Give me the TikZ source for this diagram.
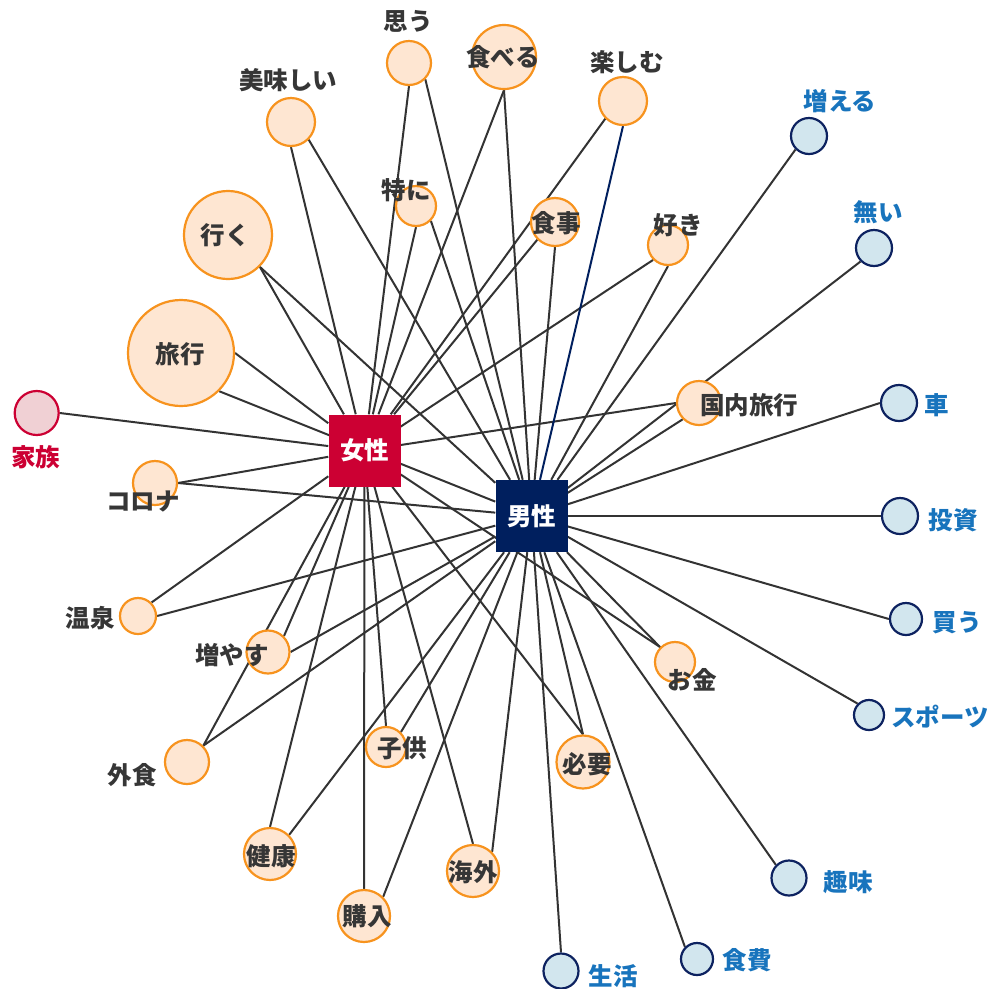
\documentclass[tikz,border=0pt]{standalone}
\usepackage{fontspec}
\newfontfamily\jp{Noto Sans CJK JP}
\usetikzlibrary{backgrounds}
\definecolor{peach}{HTML}{FEE6D2}
\definecolor{orangeB}{HTML}{F7931E}
\definecolor{lightblue}{HTML}{D2E6EE}
\definecolor{navyB}{HTML}{0D2260}
\definecolor{pinkF}{HTML}{F0D0D4}
\definecolor{femred}{HTML}{CC0033}
\definecolor{malenavy}{HTML}{001F5E}
\definecolor{edgegray}{HTML}{333333}
\definecolor{txtgray}{HTML}{363636}
\definecolor{lblblue}{HTML}{1874BD}
\newcommand\lblfont{\jp\bfseries\fontsize{24.5}{28}\selectfont}
\tikzset{
  oc/.style={circle, draw=orangeB, fill=peach, line width=2.2pt, inner sep=0pt, minimum size=#1},
  bc/.style={circle, draw=navyB, fill=lightblue, line width=2.2pt, inner sep=0pt, minimum size=#1},
  sq/.style={rectangle, minimum size=72pt, inner sep=0pt, text=white, font=\lblfont},
  lbl/.style={text=txtgray, font=\lblfont, inner sep=0pt},
  blbl/.style={lbl, text=lblblue},
  lnk/.style={draw=edgegray, line width=2pt},
}
\begin{document}
\begin{tikzpicture}[x=1pt,y=-1pt]
\useasboundingbox (0,0) rectangle (987,989);
% squares
\node[sq, fill=femred] (F) at (364.5,450.5) {女性};
\node[sq, fill=malenavy] (M) at (531.5,516) {男性};
% orange circles
\node[circle, draw=femred, fill=pinkF, line width=2.2pt, inner sep=0pt, minimum size=44pt] (kazoku) at (36.7,413) {};
\node[oc=44pt] (korona) at (155,483) {};
\node[oc=106pt] (ryoko) at (181,353) {};
\node[oc=88pt] (iku) at (228,235) {};
\node[oc=48pt] (oishii) at (291,122) {};
\node[oc=44pt] (omou) at (409,63) {};
\node[oc=64pt] (taberu) at (504,57) {};
\node[oc=48pt] (tanoshimu) at (623,101) {};
\node[oc=40pt] (tokuni) at (416,206) {};
\node[oc=48pt] (shokuji) at (555,222) {};
\node[oc=40pt] (suki) at (668,245) {};
\node[oc=44pt] (kokunai) at (699,403) {};
\node[oc=36pt] (onsen) at (138,616) {};
\node[oc=43pt] (fuyasu) at (268,652) {};
\node[oc=44pt] (gaishoku) at (187,762) {};
\node[oc=52pt] (kenko) at (270,854) {};
\node[oc=52pt] (konyu) at (364,916) {};
\node[oc=52pt] (kaigai) at (473,871) {};
\node[oc=40pt] (kodomo) at (386,747) {};
\node[oc=53pt] (hitsuyo) at (583,762) {};
\node[oc=40pt] (okane) at (675,662) {};
% blue circles
\node[bc=36pt] (fueru) at (809,136) {};
\node[bc=36pt] (nai) at (874,248) {};
\node[bc=36pt] (kuruma) at (899,403) {};
\node[bc=36pt] (toshi) at (900,516) {};
\node[bc=32pt] (kau) at (906,619) {};
\node[bc=30pt] (sports) at (869,715) {};
\node[bc=35pt] (shumi) at (789,878) {};
\node[bc=32pt] (shokuhi) at (697,959) {};
\node[bc=35pt] (seikatsu) at (561,971) {};
% labels
\node[lbl, text=femred] (Lkazoku) at (36,457) {家族};
\node[lbl] (Lkorona) at (143,501) {コロナ};
\node[lbl] (Lryoko) at (180,354) {旅行};
\node[lbl] (Liku) at (225,235) {行く};
\node[lbl] (Loishii) at (288,80) {美味しい};
\node[lbl] (Lomou) at (408,21) {思う};
\node[lbl] (Ltaberu) at (503,57) {食べる};
\node[lbl] (Ltanoshimu) at (627,62) {楽しむ};
\node[lbl] (Ltokuni) at (406,190) {特に};
\node[lbl] (Lshokuji) at (556,223) {食事};
\node[lbl] (Lsuki) at (678,225) {好き};
\node[lbl] (Lkokunai) at (749,405) {国内旅行};
\node[lbl] (Lonsen) at (90,618) {温泉};
\node[lbl] (Lfuyasu) at (232,655) {増やす};
\node[lbl] (Lgaishoku) at (132,775) {外食};
\node[lbl] (Lkenko) at (271,856) {健康};
\node[lbl] (Lkonyu) at (367,916) {購入};
\node[lbl] (Lkaigai) at (473,872) {海外};
\node[lbl] (Lkodomo) at (402,748) {子供};
\node[lbl] (Lhitsuyo) at (587,764) {必要};
\node[lbl] (Lokane) at (692,680) {お金};
\node[blbl] (Lfueru) at (840,101) {増える};
\node[blbl] (Lnai) at (878,212) {無い};
\node[blbl] (Lkuruma) at (937,405) {車};
\node[blbl] (Ltoshi) at (953,520) {投資};
\node[blbl] (Lkau) at (957,623) {買う};
\node[blbl] (Lsports) at (940,717) {スポーツ};
\node[blbl] (Lshumi) at (848,882) {趣味};
\node[blbl] (Lshokuhi) at (747,960) {食費};
\node[blbl] (Lseikatsu) at (613,976) {生活};
\begin{pgfonlayer}{background}
\fill[white] (0,0) rectangle (987,989);
% edges to 女性
\draw[lnk] (kazoku.east) -- (F);
\draw[lnk] (korona.east) -- (F);
\draw[lnk] (ryoko.east) -- (F);
\draw[lnk] (iku.south east) -- (F);
\draw[lnk] (oishii.south) -- (F);
\draw[lnk] (omou.south) -- (F);
\draw[lnk] (taberu.south) -- (F);
\draw[lnk] (tanoshimu.south west) -- (F);
\draw[lnk] (tokuni.south) -- (F);
\draw[lnk] (shokuji.south west) -- (F);
\draw[lnk] (suki.south west) -- (F);
\draw[lnk] (kokunai.west) -- (F);
\draw[lnk] (onsen.north east) -- (F);
\draw[lnk] (fuyasu.north east) -- (F);
\draw[lnk] (gaishoku.north east) -- (F);
\draw[lnk] (kenko.north) -- (F);
\draw[lnk] (konyu.north) -- (F);
\draw[lnk] (kaigai.north) -- (F);
\draw[lnk] (kodomo.north) -- (F);
\draw[lnk] (hitsuyo.north) -- (F);
\draw[lnk] (okane.north west) -- (F);
% edges to 男性
\draw[lnk] (korona.east) -- (M);
\draw[lnk] (ryoko.south east) -- (M);
\draw[lnk] (iku.south east) -- (M);
\draw[lnk] (oishii.south east) -- (M);
\draw[lnk] (omou.south east) -- (M);
\draw[lnk] (taberu.south) -- (M);
\draw[lnk, draw=malenavy] (tanoshimu.south) -- (M);
\draw[lnk] (tokuni.south east) -- (M);
\draw[lnk] (shokuji.south) -- (M);
\draw[lnk] (suki.south) -- (M);
\draw[lnk] (kokunai.south west) -- (M);
\draw[lnk] (fueru.south west) -- (M);
\draw[lnk] (nai.south west) -- (M);
\draw[lnk] (kuruma.west) -- (M);
\draw[lnk] (toshi.west) -- (M);
\draw[lnk] (kau.west) -- (M);
\draw[lnk] (sports.north west) -- (M);
\draw[lnk] (shumi.north west) -- (M);
\draw[lnk] (shokuhi.north west) -- (M);
\draw[lnk] (seikatsu.north) -- (M);
\draw[lnk] (onsen.east) -- (M);
\draw[lnk] (fuyasu.east) -- (M);
\draw[lnk] (gaishoku.north east) -- (M);
\draw[lnk] (kenko.north east) -- (M);
\draw[lnk] (konyu.north east) -- (M);
\draw[lnk] (kaigai.north east) -- (M);
\draw[lnk] (kodomo.north east) -- (M);
\draw[lnk] (hitsuyo.north) -- (M);
\draw[lnk] (okane.north west) -- (M);
\end{pgfonlayer}
\end{tikzpicture}
\end{document}
